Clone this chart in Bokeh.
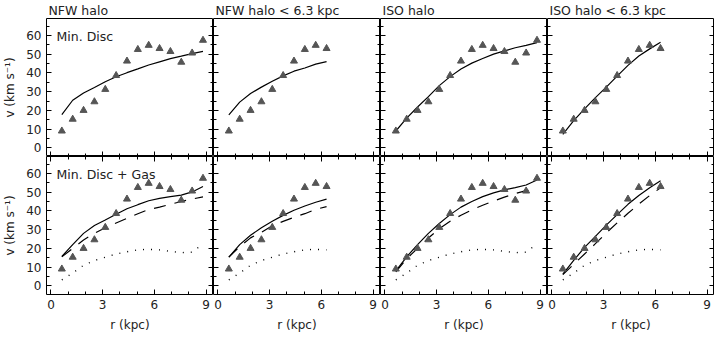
from bokeh.plotting import figure
from bokeh.layouts import gridplot
from bokeh.models import Range1d, FixedTicker, LinearAxis, Label, CustomLabelingPolicy
from bokeh.embed import file_html
from bokeh.resources import INLINE

# ---------------- data ----------------
r_obs = [0.63, 1.26, 1.89, 2.52, 3.15, 3.78, 4.41, 5.04, 5.67, 6.30, 6.93, 7.56, 8.19, 8.82]
v_obs = [9.0, 15.3, 20.0, 24.6, 31.2, 38.6, 46.3, 52.5, 54.7, 53.0, 51.4, 45.7, 50.6, 57.4]

panel_titles = ["NFW halo", "NFW halo < 6.3 kpc", "ISO halo", "ISO halo < 6.3 kpc"]
row_labels = ["Min. Disc", "Min. Disc + Gas"]
x_major = [0, 3, 6, 9]
x_minor = [1, 2, 4, 5, 7, 8]
y_major = [0, 10, 20, 30, 40, 50, 60]
y_minor = [5, 15, 25, 35, 45, 55, 65]
x_label = "r (kpc)"
y_label = "v (km s\u207b\u00b9)"

# Row 1: minimum disc fits (solid)
nfw_min = [17.7, 25.4, 29.3, 32.2, 35.3, 37.9, 40.1, 42.1, 44.2, 45.9, 47.6, 48.9, 50.3, 51.5]
nfw_min_in = [17.6, 24.4, 29.0, 32.4, 35.5, 38.4, 40.9, 42.6, 44.7, 46.0]
iso_min = [9.0, 15.9, 21.8, 27.3, 33.2, 38.0, 42.1, 45.2, 47.7, 50.0, 51.7, 53.4, 54.7, 56.1]
iso_min_in = [7.2, 14.5, 20.8, 26.8, 32.4, 38.3, 44.0, 49.0, 52.8, 56.3]

# Row 2: minimum disc + gas fits (solid = total, dashed = halo)
nfw_gas_tot = [15.7, 22.0, 28.0, 32.2, 35.1, 38.2, 41.1, 43.3, 45.4, 46.7, 47.6, 48.4, 50.1, 53.0]
nfw_gas_halo = [15.5, 20.0, 24.5, 28.0, 31.0, 33.5, 36.0, 38.5, 40.7, 42.0, 43.5, 45.0, 46.3, 47.5]
nfw_gas_in_tot = [15.3, 22.0, 27.0, 31.0, 34.5, 37.6, 40.3, 42.6, 44.6, 46.3]
nfw_gas_in_halo = [15.3, 21.0, 25.6, 28.6, 32.1, 34.4, 36.6, 38.5, 40.8, 42.3]
iso_gas_tot = [8.0, 15.5, 22.0, 28.0, 33.3, 38.0, 42.0, 45.0, 47.6, 49.6, 51.2, 52.4, 53.8, 56.5]
iso_gas_halo = [7.5, 14.5, 20.0, 25.5, 30.5, 34.5, 37.7, 40.5, 43.0, 45.2, 47.3, 49.2, 50.8, 51.6]
iso_gas_in_tot = [6.3, 13.6, 20.5, 26.4, 32.4, 38.0, 43.5, 48.2, 52.3, 56.1]
iso_gas_in_halo = [6.0, 11.5, 17.0, 22.5, 28.2, 33.6, 38.7, 43.6, 48.2, 52.3]

# gas contribution (dotted)
v_gas = [3.2, 6.8, 11.0, 13.5, 15.3, 17.0, 18.2, 19.2, 19.5, 19.2, 18.4, 17.7, 18.0, 22.4]

row1_fits = [nfw_min, nfw_min_in, iso_min, iso_min_in]
row2_tot = [nfw_gas_tot, nfw_gas_in_tot, iso_gas_tot, iso_gas_in_tot]
row2_halo = [nfw_gas_halo, nfw_gas_in_halo, iso_gas_halo, iso_gas_in_halo]
n_points = [14, 10, 14, 10]

# ---------------- styling ----------------
FW, FH = 167, 138
FONT = "DejaVu Sans"
TXT = "#222222"
MARK = "#555555"


def style_axis(ax, major, minor, labels=False, axis_label=None):
    ax.ticker = FixedTicker(ticks=major, minor_ticks=minor)
    ax.major_tick_in = 5
    ax.major_tick_out = 0
    ax.minor_tick_in = 3
    ax.minor_tick_out = 0
    ax.major_tick_line_color = "black"
    ax.minor_tick_line_color = "black"
    ax.axis_line_color = None
    if labels:
        ax.major_label_text_font = FONT
        ax.major_label_text_font_size = "12px"
        ax.major_label_text_color = TXT
        ax.major_label_standoff = 5
    else:
        ax.major_label_text_font_size = "0px"
        ax.major_label_standoff = 0
        ax.major_label_policy = CustomLabelingPolicy(code="return []")
    if axis_label:
        ax.axis_label = axis_label
        ax.axis_label_text_font = FONT
        ax.axis_label_text_font_size = "12px"
        ax.axis_label_text_font_style = "normal"
        ax.axis_label_text_color = TXT
        ax.axis_label_standoff = 6
    else:
        ax.axis_label = None


def make_panel(row, col):
    p = figure(
        frame_width=FW, frame_height=FH,
        x_range=Range1d(-0.26, 9.43), y_range=Range1d(-4.6, 69.0),
        output_backend="svg", toolbar_location=None,
        min_border=0,
        min_border_left=40 if col == 0 else 0,
        min_border_top=16 if row == 0 else 0,
        min_border_bottom=40 if row == 1 else 0,
    )
    p.outline_line_color = "black"
    p.outline_line_width = 1
    p.grid.visible = False
    p.background_fill_color = "white"
    p.border_fill_color = "white"

    if row == 0:
        p.title.text = panel_titles[col]
        p.title.align = "left"
        p.title.offset = 2
        p.title.standoff = 1
        p.title.text_font = FONT
        p.title.text_font_size = "12.5px"
        p.title.text_font_style = "normal"
        p.title.text_color = TXT

    style_axis(p.xaxis[0], x_major, x_minor, labels=(row == 1),
               axis_label=x_label if row == 1 else None)
    style_axis(p.yaxis[0], y_major, y_minor, labels=(col == 0),
               axis_label=y_label if col == 0 else None)
    right = LinearAxis()
    style_axis(right, y_major, y_minor)
    p.add_layout(right, "right")
    if row == 1:
        top = LinearAxis()
        style_axis(top, x_major, x_minor)
        p.add_layout(top, "above")

    n = n_points[col]
    rr = r_obs[:n]
    if row == 0:
        p.line(rr, row1_fits[col], line_color="black", line_width=1.2)
    else:
        p.line(rr, v_gas[:n], line_color="black", line_width=1.4, line_dash="1 7")
        p.line(rr, row2_halo[col], line_color="black", line_width=1.2, line_dash="12 9")
        p.line(rr, row2_tot[col], line_color="black", line_width=1.2)
    p.scatter(rr, v_obs[:n], marker="triangle", size=7,
              fill_color=MARK, line_color=MARK)

    if col == 0:
        p.add_layout(Label(x=10, y=FH - 10, x_units="screen", y_units="screen",
                           text=row_labels[row], text_font=FONT,
                           text_font_size="12.5px", text_color=TXT,
                           text_baseline="top"))
    return p


panels = [[make_panel(r, c) for c in range(4)] for r in range(2)]
grid = gridplot(panels, toolbar_location=None)

open("out.html", "w").write(file_html(grid, INLINE))
